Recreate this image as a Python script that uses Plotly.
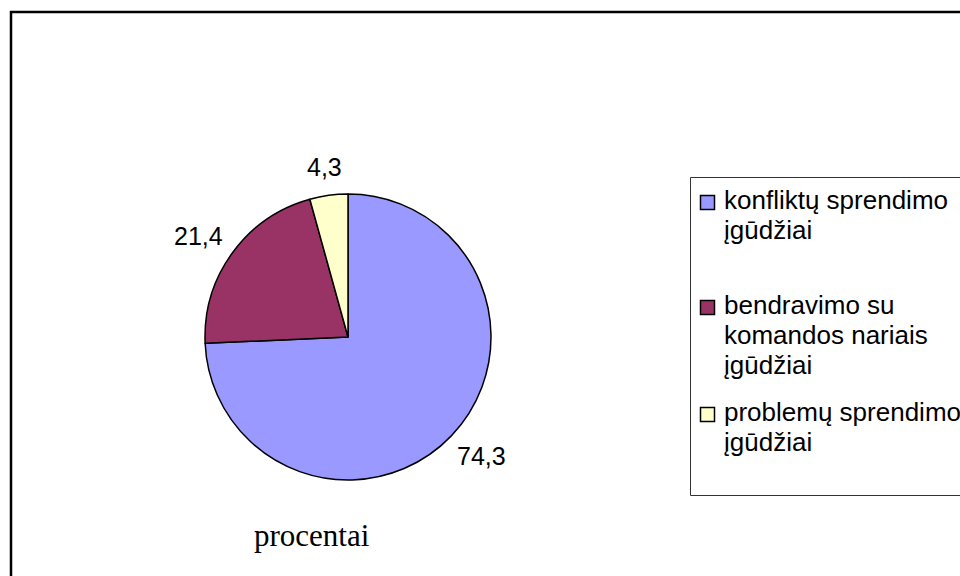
import math
import plotly.graph_objects as go

# Data
category_lines = [
    ["konfliktų sprendimo", "įgūdžiai"],
    ["bendravimo su", "komandos nariais", "įgūdžiai"],
    ["problemų sprendimo", "įgūdžiai"],
]
values = [74.3, 21.4, 4.3]
colors = ["#9999FF", "#993366", "#FFFFCC"]
title_text = "procentai"

categories = ["<br>".join(lines) for lines in category_lines]

W, H = 960, 576
cx, cy, R = 348, 337, 143  # pie centre and radius (px)

LABEL_FONT = 25
LEGEND_FONT = 26

fig = go.Figure(
    go.Pie(
        labels=categories,
        values=values,
        sort=False,
        direction="clockwise",
        rotation=0,
        marker=dict(colors=colors, line=dict(color="black", width=1.5)),
        textinfo="none",
        hoverinfo="label+value",
        domain=dict(x=[(cx - R) / W, (cx + R) / W],
                    y=[(H - cy - R) / H, (H - cy + R) / H]),
        showlegend=False,
    )
)


def px_x(x):
    return x / W


def px_y(y):
    return 1 - y / H


def text_width(s, size):
    # approximate Arial advance widths (digits 0.556 em, comma 0.278 em)
    return sum((0.278 if ch in ",." else 0.556) for ch in s) * size


annotations = []
shapes = []

# Value labels outside each slice, offset along the slice's mid-angle
total = sum(values)
cum = 0.0
gap = 17
box_h = 24
for v in values:
    mid = (cum + v / 2) / total * 2 * math.pi
    cum += v
    dx, dy = math.sin(mid), -math.cos(mid)  # dy points downwards
    txt = f"{v:.1f}".replace(".", ",")
    w = text_width(txt, LABEL_FONT)
    lx = cx + dx * (R + gap) + dx * w / 2
    ly = cy + dy * (R + gap) + dy * box_h / 2
    annotations.append(dict(
        x=px_x(lx), y=px_y(ly), xref="paper", yref="paper",
        text=txt, showarrow=False, xanchor="center", yanchor="middle",
        font=dict(family="Liberation Sans, Arial", size=LABEL_FONT, color="black"),
    ))

# Title under the pie
annotations.append(dict(
    x=px_x(312), y=px_y(535), xref="paper", yref="paper",
    text=title_text, showarrow=False, xanchor="center", yanchor="middle",
    font=dict(family="Liberation Serif, Times New Roman", size=31, color="black"),
))

# Legend: boxed, one swatch per slice, wrapped labels
legend_first_line_y = [200, 305, 412]
line_step = 30
for lines, col, y0 in zip(category_lines, colors, legend_first_line_y):
    shapes.append(dict(
        type="rect", xref="paper", yref="paper",
        x0=px_x(700.5), x1=px_x(714.5), y0=px_y(209.5 + y0 - 200), y1=px_y(195.5 + y0 - 200),
        line=dict(color="black", width=1.5), fillcolor=col,
    ))
    for i, line in enumerate(lines):
        annotations.append(dict(
            x=px_x(722), y=px_y(y0 + i * line_step), xref="paper", yref="paper",
            text=line, showarrow=False, xanchor="left", yanchor="middle",
            font=dict(family="Liberation Sans, Arial", size=LEGEND_FONT, color="black"),
        ))

shapes += [
    # outer chart frame
    dict(type="rect", xref="paper", yref="paper",
         x0=px_x(11), x1=1.05, y0=-0.05, y1=px_y(12),
         line=dict(color="black", width=2.5), fillcolor="rgba(0,0,0,0)"),
    # legend frame
    dict(type="rect", xref="paper", yref="paper",
         x0=px_x(690.5), x1=1.05, y0=px_y(495.5), y1=px_y(177.5),
         line=dict(color="#333333", width=1), fillcolor="rgba(0,0,0,0)"),
]

fig.update_layout(
    width=W, height=H,
    margin=dict(l=0, r=0, t=0, b=0),
    paper_bgcolor="white",
    plot_bgcolor="white",
    separators=", ",
    showlegend=False,
    annotations=annotations,
    shapes=shapes,
)

fig.write_html("out.html")
